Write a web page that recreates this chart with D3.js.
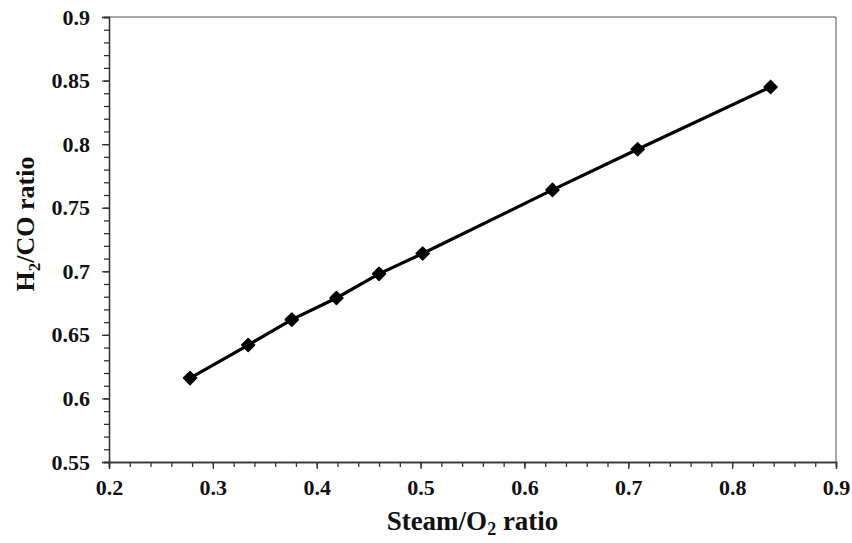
<!DOCTYPE html>
<html>
  <head>
    <script src="https://d3js.org/d3.v7.min.js"></script>
    <style>
      body { margin: 0; background: #fff; }
      text { font-family: "Liberation Serif", "Times New Roman", serif; font-weight: bold; fill: #111; }
    </style>
  </head>
  <body>
    <svg id="chart" width="852" height="543"></svg>
  </body>
  <script type="text/javascript">
    // values
    var steamO2 = [0.278, 0.334, 0.376, 0.419, 0.460, 0.502, 0.627, 0.709, 0.837];
    var h2co    = [0.616, 0.642, 0.662, 0.679, 0.698, 0.714, 0.764, 0.796, 0.845];
    var xTicks = [0.2, 0.3, 0.4, 0.5, 0.6, 0.7, 0.8, 0.9];
    var yTicks = [0.55, 0.6, 0.65, 0.7, 0.75, 0.8, 0.85, 0.9];

    var points = steamO2.map(function (x, i) { return { x: x, y: h2co[i] }; });

    var plotL = 109, plotR = 836, plotT = 17, plotB = 462;
    var svg = d3.select("#chart");

    var xScale = d3.scaleLinear().domain([0.2, 0.9]).range([plotL, plotR]);
    var yScale = d3.scaleLinear().domain([0.55, 0.9]).range([plotB, plotT]);

    // box on top and right
    svg.append("path")
      .attr("d", "M" + plotL + "," + plotT + "H" + plotR + "V" + plotB)
      .attr("fill", "none")
      .attr("stroke", "#555")
      .attr("stroke-width", 1);

    // minor ticks
    var xMinor = d3.range(0.2, 0.9001, 0.02);
    var yMinor = d3.range(0.55, 0.9001, 0.01);

    svg.append("g")
      .attr("transform", "translate(0," + plotB + ")")
      .call(d3.axisBottom(xScale).tickValues(xMinor).tickSize(5).tickFormat(""));
    svg.append("g")
      .attr("transform", "translate(0," + plotB + ")")
      .call(d3.axisBottom(xScale).tickValues(xTicks).tickSize(7).tickPadding(10)
        .tickFormat(d3.format(".1f")))
      .call(function (g) {
        g.selectAll("text").style("font-size", "22px").attr("fill", "#111");
      });

    svg.append("g")
      .attr("transform", "translate(" + plotL + ",0)")
      .call(d3.axisLeft(yScale).tickValues(yMinor).tickSize(5).tickFormat(""));
    svg.append("g")
      .attr("transform", "translate(" + plotL + ",0)")
      .call(d3.axisLeft(yScale).tickValues(yTicks).tickSize(7).tickPadding(12)
        .tickFormat(function (d) { return String(+d.toFixed(2)); }))
      .call(function (g) {
        g.selectAll("text").style("font-size", "22px").attr("fill", "#111");
      });

    svg.selectAll(".domain").attr("stroke", "#333").attr("stroke-width", 1.3);
    svg.selectAll(".tick line").attr("stroke", "#333").attr("stroke-width", 1.3);

    // series line
    var line = d3.line()
      .x(function (d) { return xScale(d.x); })
      .y(function (d) { return yScale(d.y); });

    svg.append("path")
      .datum(points)
      .attr("d", line)
      .attr("fill", "none")
      .attr("stroke", "#000")
      .attr("stroke-width", 3.2);

    svg.selectAll("path.marker")
      .data(points)
      .enter()
      .append("path")
      .attr("class", "marker")
      .attr("d", d3.symbol().type(d3.symbolSquare).size(85))
      .attr("transform", function (d) {
        return "translate(" + xScale(d.x) + "," + yScale(d.y) + ") rotate(45)";
      })
      .attr("fill", "#000")
      .attr("stroke", "#000")
      .attr("stroke-width", 1.5)
      .attr("stroke-linejoin", "round");

    // axis titles
    var xt = svg.append("text")
      .attr("x", (plotL + plotR) / 2)
      .attr("y", 530)
      .attr("text-anchor", "middle")
      .style("font-size", "27px");
    xt.append("tspan").text("Steam/O");
    xt.append("tspan").attr("dy", 5).style("font-size", "18px").text("2");
    xt.append("tspan").attr("dy", -5).text(" ratio");

    var yt = svg.append("text")
      .attr("transform", "translate(34,224) rotate(-90)")
      .attr("text-anchor", "middle")
      .style("font-size", "26px");
    yt.append("tspan").text("H");
    yt.append("tspan").attr("dy", 6).style("font-size", "17px").text("2");
    yt.append("tspan").attr("dy", -6).text("/CO ratio");
  </script>
</html>
